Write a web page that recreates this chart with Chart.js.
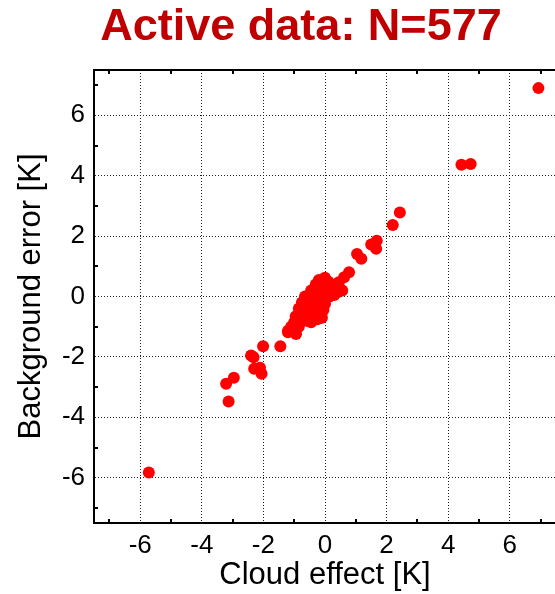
<!DOCTYPE html>
<html><head><meta charset="utf-8">
<script src="https://cdn.jsdelivr.net/npm/chart.js@4.4.1/dist/chart.umd.min.js"></script>
<style>html,body{margin:0;padding:0;background:#fff;overflow:hidden;width:555px;height:594px}canvas{display:block}</style>
</head><body>
<canvas id="c" width="562" height="594" style="width:562px;height:594px"></canvas>
<script>
const titleText = 'Active data: N=577';
const xAxisTitle = 'Cloud effect [K]';
const yAxisTitle = 'Background error [K]';
const axisMin = -7.5, axisMax = 7.5;
const tickValues = [-7,-6,-5,-4,-3,-2,-1,0,1,2,3,4,5,6,7];
const labeledTicks = [-6,-4,-2,0,2,4,6];
const cloudEffect = [6.93,4.43,4.73,2.43,2.20,1.68,1.50,1.66,1.04,1.18,0.78,0.62,0.45,0.56,0.40,-5.72,-3.13,-3.21,-2.96,-2.40,-2.32,-2.30,-2.11,-2.06,-2.01,-1.45,-1.20,-0.94,-1.20,-0.99,
 -0.20,0.00,0.10,
 -0.30,-0.10,0.10,0.30,
 -0.45,-0.25,0.00,0.20,0.35,
 -0.65,-0.45,-0.25,-0.05,0.15,0.30,
 -0.75,-0.55,-0.35,-0.15,0.00,
 -0.85,-0.65,-0.45,-0.25,-0.05,
 -0.95,-0.75,-0.55,-0.35,-0.10,
 -1.00,-0.80,-0.60,-0.45,-0.25,
 -1.10,-0.85];
const backgroundError = [6.90,4.36,4.39,2.78,2.37,1.85,1.72,1.58,1.41,1.25,0.80,0.64,0.47,0.20,0.14,-5.83,-3.48,-2.89,-2.69,-1.95,-2.01,-2.39,-2.36,-2.56,-1.65,-1.65,-1.18,-1.24,-1.13,-0.96,
 0.55,0.62,0.50,
 0.40,0.40,0.35,0.40,
 0.20,0.20,0.20,0.20,0.25,
 0.00,0.00,0.00,0.00,0.00,0.05,
 -0.20,-0.20,-0.20,-0.20,-0.25,
 -0.40,-0.40,-0.40,-0.40,-0.45,
 -0.65,-0.60,-0.60,-0.60,-0.70,
 -0.85,-0.80,-0.80,-0.85,-0.75,
 -1.00,-1.00];

const points = cloudEffect.map((x, i) => ({x: x, y: backgroundError[i]}));
Chart.defaults.font.family = "'Liberation Sans', Arial, sans-serif";
Chart.defaults.color = '#000';

const setTicks = s => { s.ticks = tickValues.map(v => ({value: v})); };
const isEven = v => Math.abs(v % 2) < 1e-9;
const gridOpts = {
  color: c => (c.tick && isEven(c.tick.value)) ? '#222' : 'rgba(0,0,0,0)',
  lineWidth: c => (c.tick && isEven(c.tick.value)) ? 1 : 0,
  tickColor: c => (c.tick && !isEven(c.tick.value)) ? '#000' : 'rgba(0,0,0,0)',
  tickWidth: 2,
  tickLength: -4,
  drawTicks: true
};
const tickFont = {size: 26};
const labelCb = v => labeledTicks.includes(v) ? String(v) : '';

new Chart(document.getElementById('c'), {
  type: 'scatter',
  data: {datasets: [{data: points, backgroundColor: '#ff0000', borderWidth: 0, pointRadius: 6, pointHoverRadius: 6}]},
  options: {
    responsive: false, animation: false,
    layout: {padding: {left: 40, right: 0, top: 0, bottom: 0}},
    plugins: {
      legend: {display: false}, tooltip: {enabled: false},
      title: {display: true, text: titleText, color: '#c00000', font: {size: 45, weight: 'bold', lineHeight: 1.2}, padding: {top: 1, bottom: 15}}
    },
    scales: {
      x: {
        type: 'linear', position: 'bottom', min: axisMin, max: axisMax,
        afterBuildTicks: setTicks,
        afterFit: s => { s.height = 71; },
        ticks: {autoSkip: false, maxRotation: 0, padding: 11, font: tickFont, callback: labelCb},
        grid: gridOpts,
        border: {display: true, color: '#000', width: 2, dash: [1, 2]},
        title: {display: true, text: xAxisTitle, font: {size: 31}, padding: {top: 0, bottom: 0}}
      },
      x2: {
        type: 'linear', position: 'top', min: axisMin, max: axisMax,
        afterBuildTicks: setTicks,
        afterFit: s => { s.height = 0; },
        ticks: {display: false},
        grid: Object.assign({}, gridOpts, {drawOnChartArea: false}),
        border: {display: true, color: '#000', width: 2}
      },
      y: {
        type: 'linear', position: 'left', min: axisMin, max: axisMax,
        afterBuildTicks: setTicks,
        afterFit: s => { s.width = 54; },
        ticks: {autoSkip: false, padding: 13, font: tickFont, callback: labelCb},
        grid: gridOpts,
        border: {display: true, color: '#000', width: 2, dash: [1, 2]},
        title: {display: true, text: yAxisTitle, font: {size: 31}, padding: {top: -27, bottom: 0}}
      }
    }
  }
});
</script>
</body></html>
